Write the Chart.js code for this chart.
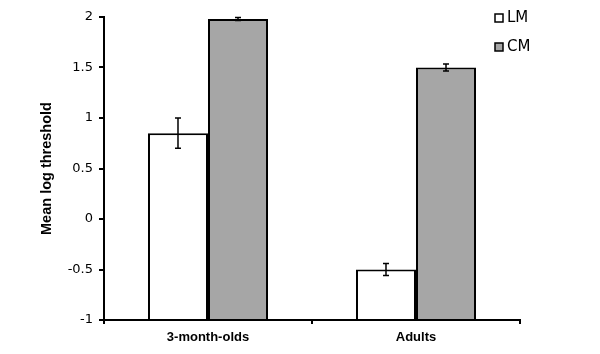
<!DOCTYPE html>
<html>
<head>
<meta charset="utf-8">
<script src="https://cdn.jsdelivr.net/npm/chart.js@4/dist/chart.umd.min.js"></script>
<style>
html,body{margin:0;padding:0;background:#fff;}
#wrap{width:600px;height:354px;position:relative;}
</style>
</head>
<body>
<div id="wrap"><canvas id="c" width="600" height="354"></canvas></div>
<script>
const categories = ["3-month-olds", "Adults"];
const seriesNames = ["LM", "CM"];
const lmValues = [0.85, -0.50];
const lmErrors = [0.15, 0.06];
const cmValues = [1.98, 1.50];
const cmErrors = [0.015, 0.035];
const yTicks = [-1, -0.5, 0, 0.5, 1, 1.5, 2];

const errorBars = {
  id: 'errorBars',
  afterDatasetsDraw(chart) {
    const ctx = chart.ctx;
    const yScale = chart.scales.y;
    chart.data.datasets.forEach((ds, di) => {
      const meta = chart.getDatasetMeta(di);
      meta.data.forEach((bar, i) => {
        const v = ds.data[i], e = ds.errors[i];
        const yTop = yScale.getPixelForValue(v + e);
        const yBot = yScale.getPixelForValue(v - e);
        const x = bar.x;
        ctx.save();
        ctx.strokeStyle = '#000';
        ctx.lineWidth = 1.5;
        ctx.beginPath();
        ctx.moveTo(x, yTop); ctx.lineTo(x, yBot);
        ctx.moveTo(x - 3, yTop); ctx.lineTo(x + 3, yTop);
        ctx.moveTo(x - 3, yBot); ctx.lineTo(x + 3, yBot);
        ctx.stroke();
        ctx.restore();
      });
    });
  }
};

const customLegend = {
  id: 'customLegend',
  afterDraw(chart) {
    const ctx = chart.ctx;
    chart.data.datasets.forEach((ds, i) => {
      const y = 18 + i * 29;
      ctx.save();
      ctx.fillStyle = ds.backgroundColor;
      ctx.strokeStyle = '#000';
      ctx.lineWidth = 1.5;
      ctx.fillRect(495, y - 4, 8, 8);
      ctx.strokeRect(495, y - 4, 8, 8);
      ctx.fillStyle = '#000';
      ctx.font = '15px "DejaVu Sans"';
      ctx.textBaseline = 'middle';
      ctx.fillText(ds.label, 507, y);
      ctx.restore();
    });
  }
};

new Chart(document.getElementById('c'), {
  type: 'bar',
  data: {
    labels: categories,
    datasets: [
      { label: seriesNames[0], data: lmValues, errors: lmErrors, base: -1,
        backgroundColor: '#ffffff', borderColor: '#000', borderWidth: 2,
        categoryPercentage: 0.577, barPercentage: 1.0 },
      { label: seriesNames[1], data: cmValues, errors: cmErrors, base: -1,
        backgroundColor: '#a6a6a6', borderColor: '#000', borderWidth: 2,
        categoryPercentage: 0.577, barPercentage: 1.0 }
    ]
  },
  options: {
    responsive: false,
    animation: false,
    layout: { padding: { left: 0, right: 80, top: 17, bottom: 0 } },
    plugins: { legend: { display: false }, tooltip: { enabled: false } },
    scales: {
      x: {
        grid: { drawOnChartArea: false, offset: true, tickLength: 4, color: '#000', lineWidth: 2 },
        border: { color: '#000', width: 2 },
        ticks: { color: '#000', font: { family: '"Liberation Sans", Arial', size: 13, weight: 'bold' }, padding: 6 },
        afterFit(s) { s.height = 34; }
      },
      y: {
        min: -1, max: 2,
        afterBuildTicks(s) { s.ticks = yTicks.map(v => ({ value: v })); },
        grid: { drawOnChartArea: false, tickLength: 5, color: '#000', lineWidth: 2 },
        border: { color: '#000', width: 2 },
        ticks: { color: '#000', font: { family: '"DejaVu Sans"', size: 13 }, padding: 6,
                 callback: (v) => String(v) },
        title: { display: true, text: 'Mean log threshold', color: '#000',
                 font: { family: '"Liberation Sans", Arial', size: 14.5, weight: 'bold' },
                 padding: { top: 38, bottom: 0 } },
        afterFit(s) { s.width = 104; }
      }
    }
  },
  plugins: [errorBars, customLegend]
});
</script>
</body>
</html>
